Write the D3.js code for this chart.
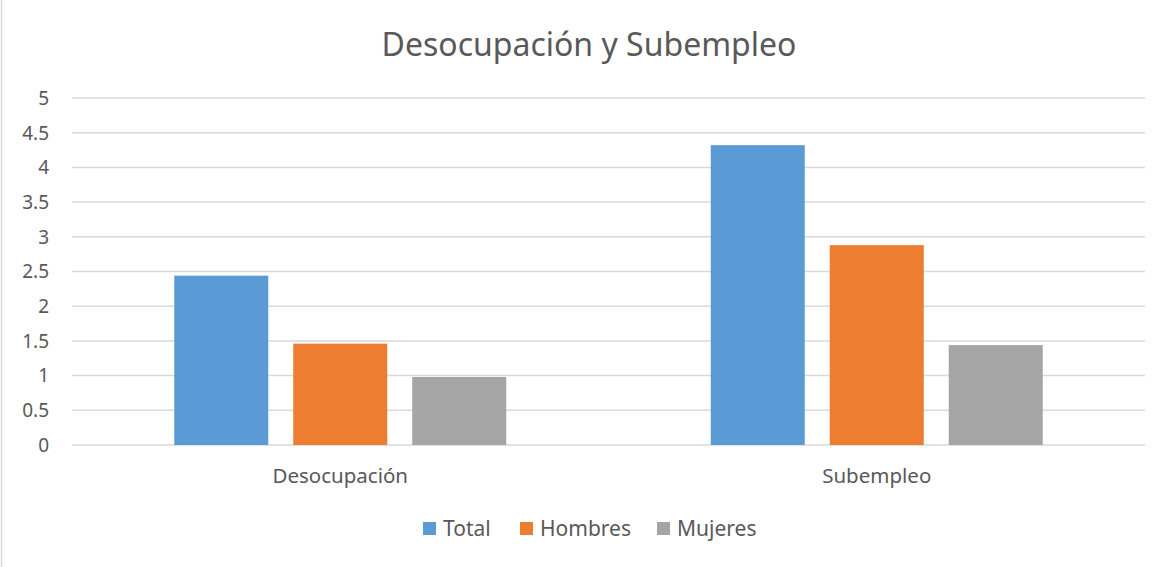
<!DOCTYPE html>
<html>
<head>
<meta charset="utf-8">
<script src="https://cdn.jsdelivr.net/npm/d3@7"></script>
<style>
  body { margin: 0; background: #fff; }
  text { font-family: "Noto Sans", "Open Sans", sans-serif; fill: #595959; }
</style>
</head>
<body>
<div id="chart"></div>
<script>
// data
var categories = ["Desocupación", "Subempleo"]
var seriesNames = ["Total", "Hombres", "Mujeres"]
var total = [2.44, 4.32]
var hombres = [1.46, 2.88]
var mujeres = [0.98, 1.44]
var yTicks = [0, 0.5, 1, 1.5, 2, 2.5, 3, 3.5, 4, 4.5, 5]
var colors = ["#5b9bd5", "#ed7d31", "#a5a5a5"]

var w = 1173, h = 567
var margin = {left: 72, right: 28, top: 98, bottom: 122}

var svg = d3.select("#chart")
	.append("svg")
	.attr("width", w)
	.attr("height", h)

// outer border (only the left one shows)
svg.append("line")
	.attr("x1", 1.5).attr("x2", 1.5)
	.attr("y1", 0).attr("y2", h)
	.attr("stroke", "#d9d9d9")
	.attr("stroke-width", 1.5)

var x0 = d3.scaleBand()
	.domain(categories)
	.range([margin.left, w - margin.right])

// inner band for the three series
var x1 = d3.scaleBand()
	.domain(seriesNames)
	.range([0, 332])
	.paddingInner(0.21)

var y = d3.scaleLinear()
	.domain([0, 5])
	.range([h - margin.bottom, margin.top])

// gridlines
svg.append("g")
	.selectAll("line")
	.data(yTicks)
	.enter().append("line")
	.attr("x1", margin.left)
	.attr("x2", w - margin.right)
	.attr("y1", d => y(d))
	.attr("y2", d => y(d))
	.attr("stroke", "#d9d9d9")
	.attr("stroke-width", 1.5)

// y axis labels
svg.append("g")
	.selectAll("text")
	.data(yTicks)
	.enter().append("text")
	.attr("x", 49)
	.attr("y", d => y(d))
	.attr("dy", "0.36em")
	.attr("text-anchor", "end")
	.style("font-size", "19px")
	.text(d => d)

// bars
var rows = categories.map((c, i) => ({cat: c, vals: [total[i], hombres[i], mujeres[i]]}))

var groups = svg.append("g")
	.selectAll("g")
	.data(rows)
	.enter().append("g")
	.attr("transform", d => "translate(" + (x0(d.cat) + (x0.bandwidth() - 332) / 2) + ",0)")

groups.selectAll("rect")
	.data(d => d.vals.map((v, j) => ({name: seriesNames[j], v: v, j: j})))
	.enter().append("rect")
	.attr("x", d => x1(d.name))
	.attr("width", x1.bandwidth())
	.attr("y", d => y(d.v))
	.attr("height", d => y(0) - y(d.v))
	.attr("fill", d => colors[d.j])

// category labels
svg.append("g")
	.selectAll("text")
	.data(categories)
	.enter().append("text")
	.attr("x", d => x0(d) + x0.bandwidth() / 2)
	.attr("y", 483)
	.attr("text-anchor", "middle")
	.style("font-size", "20.5px")
	.text(d => d)

// title
svg.append("text")
	.attr("x", 589)
	.attr("y", 56)
	.attr("text-anchor", "middle")
	.style("font-size", "32px")
	.text("Desocupación y Subempleo")

// legend
var legendX = [423, 520, 657]
var leg = svg.append("g")
	.selectAll("g")
	.data(seriesNames)
	.enter().append("g")
	.attr("transform", (d, i) => "translate(" + legendX[i] + ",522)")

leg.append("rect")
	.attr("width", 13)
	.attr("height", 13)
	.attr("fill", (d, i) => colors[i])

leg.append("text")
	.attr("x", 20)
	.attr("y", 14)
	.style("font-size", "21px")
	.text(d => d)
</script>
</body>
</html>
